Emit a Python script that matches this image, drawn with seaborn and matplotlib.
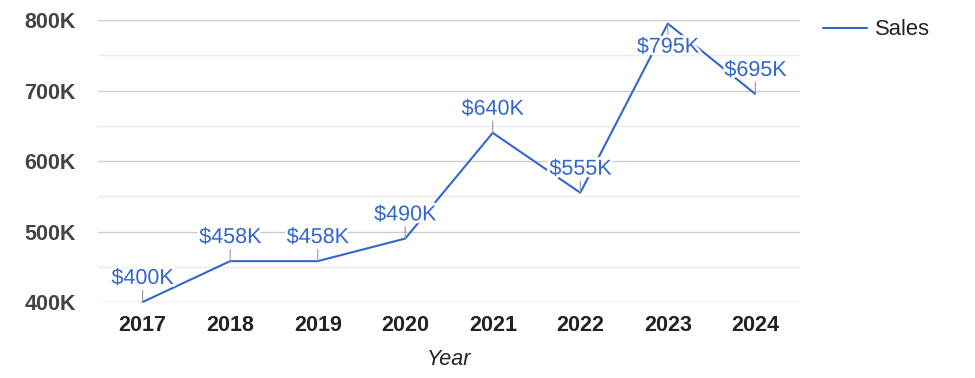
import matplotlib
matplotlib.use('Agg')
import matplotlib.pyplot as plt
import matplotlib.patheffects as pe
from matplotlib.ticker import MultipleLocator, FuncFormatter
import pandas as pd
import seaborn as sns

# Chart data
years = [2017, 2018, 2019, 2020, 2021, 2022, 2023, 2024]
sales = [400000, 458000, 458000, 490000, 640000, 555000, 795000, 695000]
value_labels = ['$400K', '$458K', '$458K', '$490K', '$640K', '$555K', '$795K', '$695K']
series_name = 'Sales'

df = pd.DataFrame({'Year': years, 'Sales': sales})

sns.set_theme(style='white')
plt.rcParams['font.family'] = ['Liberation Sans', 'DejaVu Sans']

blue = '#3366cc'
fs = 15.5

fig = plt.figure(figsize=(9.75, 3.78), dpi=100)
ax = fig.add_axes([0.1005, 0.201, 0.72, 0.746])

sns.lineplot(data=df, x='Year', y='Sales', ax=ax, color=blue, linewidth=1.5,
             label=series_name, clip_on=False, zorder=3)

ax.set_xlim(years[0] - 0.51, years[-1] + 0.51)
ax.set_ylim(400000, 800000)
ax.yaxis.set_major_locator(MultipleLocator(100000))
ax.yaxis.set_minor_locator(MultipleLocator(50000))
ax.yaxis.set_major_formatter(FuncFormatter(lambda v, p: f'{int(v / 1000)}K'))
ax.set_xticks(years)
ax.set_xticklabels([str(y) for y in years])

ax.grid(which='major', axis='y', color='#cccccc', linewidth=1.0)
ax.grid(which='minor', axis='y', color='#ebebeb', linewidth=1.0)
ax.set_axisbelow(True)
for s in ax.spines.values():
    s.set_visible(False)

ax.tick_params(axis='y', which='both', length=0, pad=16, labelsize=fs, labelcolor='#444444')
ax.tick_params(axis='x', length=0, pad=9.5, labelsize=fs, labelcolor='#222222')
for t in ax.get_yticklabels() + ax.get_xticklabels():
    t.set_fontweight('bold')

ax.set_ylabel('')
ax.set_xlabel('Year', fontsize=fs, fontstyle='italic', color='#222222', labelpad=9)

# value labels with short leader ticks
for x, v, lab in zip(years, sales, value_labels):
    sign = -1 if v >= 790000 else 1
    ax.annotate('', xy=(x, v), xytext=(0, sign * 8.5), textcoords='offset points',
                arrowprops=dict(arrowstyle='-', color='#999999', lw=0.8,
                                shrinkA=0, shrinkB=0), annotation_clip=False)
    ax.annotate(lab, xy=(x, v), xytext=(0, sign * 17), textcoords='offset points',
                ha='center', va='center', fontsize=fs, color=blue, zorder=5,
                annotation_clip=False,
                path_effects=[pe.withStroke(linewidth=4, foreground='white')])

leg = ax.legend(loc='center left', bbox_to_anchor=(0.835, 0.921), bbox_transform=fig.transFigure,
                frameon=False, fontsize=15.8, handlelength=2.0, handletextpad=0.37,
                borderaxespad=0)
for t in leg.get_texts():
    t.set_color('#222222')

fig.savefig('out.png', dpi=100)
